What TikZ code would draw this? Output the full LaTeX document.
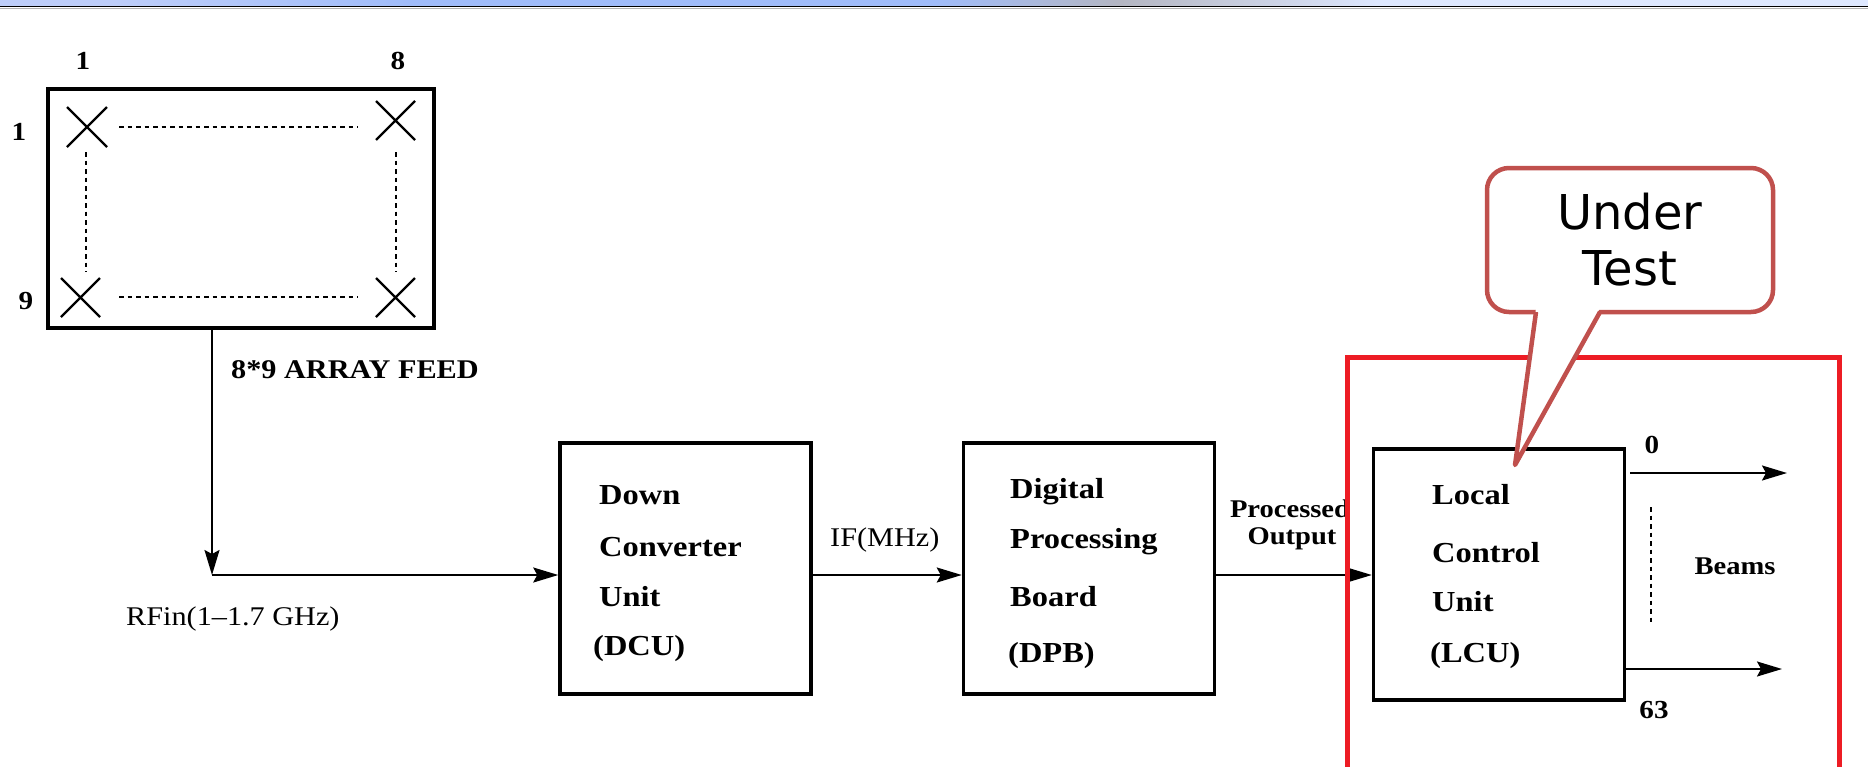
\documentclass[tikz,border=0pt]{standalone}
\usepackage{fontspec}
\setmainfont{Liberation Serif}[FakeStretch=1.12]
\newfontfamily\dejavu{DejaVu Sans}
\usetikzlibrary{arrows.meta}
\definecolor{calloutred}{RGB}{192,80,77}
\definecolor{boxred}{RGB}{237,28,36}
\definecolor{barA}{RGB}{190,206,250}
\definecolor{barB}{RGB}{160,188,250}
\definecolor{barC}{RGB}{180,182,194}
\definecolor{barD}{RGB}{222,232,255}
\newcommand\fsz[2]{\fontsize{#1}{#2}\selectfont}
\pgfdeclarehorizontalshading{topbar}{100bp}{color(0bp)=(barA); color(28bp)=(barA); color(36bp)=(barB); color(50bp)=(barB); color(55bp)=(barC); color(62bp)=(barD); color(85bp)=(barD); color(100bp)=(barA)}
\tikzset{
  blk/.style={draw, rectangle, line width=3.5pt, inner sep=0pt, minimum width=251pt, minimum height=251pt},
  lbl/.style={anchor=base west, inner sep=0pt, font=\bfseries\fsz{29}{34}},
  rlbl/.style={anchor=base west, inner sep=0pt, font=\fsz{27}{32}},
  num/.style={anchor=base, inner sep=0pt, font=\bfseries\fsz{26}{30}},
  small/.style={anchor=base, inner sep=0pt, font=\bfseries\fsz{25.5}{30}},
  conn/.style={line width=1.9pt, -{Stealth[length=25pt,width=15pt,inset=4pt]}},
  dots/.style={line width=1.5pt, dash pattern=on 4.5pt off 4pt},
  xm/.style={line width=2.2pt},
}
\begin{document}
\begin{tikzpicture}[x=1pt,y=-1pt]
\useasboundingbox (0,0) rectangle (1868,766);
\clip (0,0) rectangle (1868,766);
% top bar
\shade[shading=topbar] (0,0) rectangle (1868,5.6);
\draw[line width=1.8pt] (0,6.5) -- (1868,6.5);
\draw[line width=1pt, gray!60] (0,8.2) -- (1868,8.2);

% array feed
\node[blk, minimum width=386pt, minimum height=239pt] (arr) at (241,208.5) {};
\draw[xm] (67,107) -- (107,147) (67,147) -- (107,107);
\draw[xm] (376,101) -- (415,140) (376,140) -- (415,101);
\draw[xm] (61,278) -- (100,317) (61,317) -- (100,278);
\draw[xm] (376,278) -- (415,317) (376,317) -- (415,278);
\draw[dots] (119,127) -- (358,127);
\draw[dots] (119,297) -- (358,297);
\draw[dots] (86,152) -- (86,272);
\draw[dots] (396,152) -- (396,272);
\node[num] (c1) at (83,69) {1};
\node[num] (c8) at (398,69) {8};
\node[num] (r1) at (19,140) {1};
\node[num] (r9) at (26,309) {9};
\node[anchor=base west, inner sep=0pt, font=\bfseries\fsz{27}{32}] (feed) at (231,378) {8*9 ARRAY FEED};

% blocks
\node[blk] (dcu) at (685.5,568.5) {};
\node[blk] (dpb) at (1089,568.5) {};
\node[blk] (lcu) at (1499,574.5) {};

\node[lbl] (d1) at (599,504) {Down};
\node[lbl] (d2) at (599,556) {Converter};
\node[lbl] (d3) at (599,606) {Unit};
\node[lbl] (d4) at (593,655) {(DCU)};

\node[lbl] (p1) at (1010,498) {Digital};
\node[lbl] (p2) at (1010,548) {Processing};
\node[lbl] (p3) at (1010,606) {Board};
\node[lbl] (p4) at (1008,662) {(DPB)};

\node[lbl] (l1) at (1432,504) {Local};
\node[lbl] (l2) at (1432,562) {Control};
\node[lbl] (l3) at (1432,611) {Unit};
\node[lbl] (l4) at (1430,662) {(LCU)};

% connectors
\coordinate (fx) at (212,0);
\coordinate (feedtop) at (arr.south -| fx);
\coordinate (corner) at (212,575);
\draw[conn] (feedtop) -- (corner);
\draw[conn] (corner) -- (corner -| dcu.west);
\draw[conn] (corner -| dcu.east) -- (corner -| dpb.west);
\draw[conn] (corner -| dpb.east) -- (corner -| lcu.west);

\node[rlbl] (rfin) at (126,625) {RFin(1--1.7 GHz)};
\node[rlbl] (ifl) at (830,546) {IF(MHz)};
\node[small] (po1) at (1290,517) {Processed};
\node[small] (po2) at (1292,544) {Output};

% beams
\coordinate (b0s) at (1630,473);
\coordinate (b0e) at (1787,473);
\coordinate (b63) at (1782,669);
\draw[conn] (b0s) -- (b0e);
\draw[conn] (b63 -| lcu.east) -- (b63);
\draw[dots] (1651,507) -- (1651,624);
\node[num] (n0) at (1652,453) {0};
\node[num] (n63) at (1654,718) {63};
\node[small] (beams) at (1735,574) {Beams};

% red frame
\draw[boxred, line width=5pt] (1347,357) rectangle (1839,790);

% callout
\node[draw=calloutred, line width=4.5pt, fill=white, rounded corners=22pt, minimum width=286pt, minimum height=144pt, inner sep=0pt, align=center, font=\dejavu\fsz{48}{56}] (callout) at (1630,240) {Under\\Test};
\fill[white] (1536,308) -- (1515,465) -- (1600,308) -- cycle;
\draw[calloutred, line width=4.5pt, line join=round] (1536,312) -- (1515,465) -- (1600,312);
\end{tikzpicture}
\end{document}
